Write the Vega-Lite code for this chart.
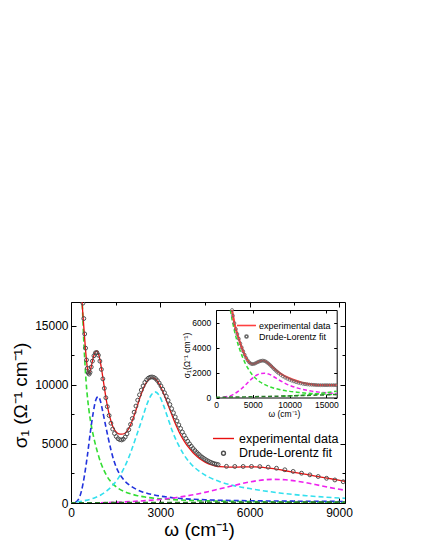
{
"$schema": "https://vega.github.io/schema/vega-lite/v6.json",
"width": 274, "height": 201,
"autosize": {"type": "none"},
"padding": {"left": 71, "top": 302, "right": 80, "bottom": 47},
"background": "white",
"config": {
 "view": {"stroke": null},
 "axis": {"grid": false, "domainColor": "black", "tickColor": "black", "labelColor": "black", "titleColor": "black", "labelFont": "Liberation Sans", "titleFont": "Liberation Sans", "titleFontWeight": "normal", "labelFlush": false, "labelOverlap": false, "domainWidth": 1, "tickWidth": 1},
 "legend": {"labelFont": "Liberation Sans", "labelColor": "black", "padding": 0, "offset": 0}
},
"datasets": {
 "main_exp": [
  {"w":330,"s":18500},{"w":370,"s":17000},{"w":430,"s":14900},{"w":490,"s":12900},{"w":550,"s":11400},{"w":600,"s":10950},{"w":650,"s":11200},{"w":710,"s":11900},{"w":770,"s":12500},{"w":830,"s":12830},{"w":870,"s":12860},{"w":920,"s":12650},{"w":980,"s":12000},{"w":1040,"s":11100},{"w":1100,"s":10100},{"w":1200,"s":8500},{"w":1300,"s":7300},{"w":1400,"s":6500},{"w":1500,"s":6050},{"w":1600,"s":5850},{"w":1700,"s":5820},{"w":1800,"s":5880},{"w":1900,"s":6150},{"w":2000,"s":6600},{"w":2100,"s":7250},{"w":2200,"s":8000},{"w":2300,"s":8800},{"w":2400,"s":9500},{"w":2500,"s":10050},{"w":2600,"s":10400},{"w":2700,"s":10560},{"w":2780,"s":10570},{"w":2860,"s":10430},{"w":2950,"s":10100},{"w":3050,"s":9600},{"w":3150,"s":9000},{"w":3250,"s":8350},{"w":3350,"s":7700},{"w":3450,"s":7050},{"w":3550,"s":6450},{"w":3650,"s":5900},{"w":3750,"s":5450},{"w":3850,"s":5050},{"w":3950,"s":4700},{"w":4100,"s":4250},{"w":4250,"s":3900},{"w":4400,"s":3620},{"w":4550,"s":3400},{"w":4700,"s":3240},{"w":4850,"s":3130},{"w":5000,"s":3070},{"w":5300,"s":3040},{"w":5600,"s":3040},{"w":5900,"s":3060},{"w":6200,"s":3060},{"w":6500,"s":3000},{"w":6800,"s":2900},{"w":7100,"s":2770},{"w":7400,"s":2640},{"w":7700,"s":2500},{"w":8000,"s":2370},{"w":8300,"s":2230},{"w":8600,"s":2100},{"w":8900,"s":1970},{"w":9200,"s":1840}
 ],
 "main_fit": [
  {"w":400,"s":16900},{"w":430,"s":15600},{"w":460,"s":14300},{"w":490,"s":13100},{"w":520,"s":12100},{"w":550,"s":11400},{"w":580,"s":11000},{"w":610,"s":10900},{"w":640,"s":11050},{"w":680,"s":11500},{"w":720,"s":12000},{"w":770,"s":12450},{"w":820,"s":12700},{"w":870,"s":12720},{"w":920,"s":12500},{"w":970,"s":12000},{"w":1020,"s":11300},{"w":1070,"s":10500},{"w":1120,"s":9700},{"w":1170,"s":8900},{"w":1220,"s":8150},{"w":1280,"s":7400},{"w":1340,"s":6750},{"w":1400,"s":6250},{"w":1460,"s":5880},{"w":1520,"s":5620},{"w":1580,"s":5440},{"w":1640,"s":5350},{"w":1700,"s":5330},{"w":1760,"s":5400},{"w":1820,"s":5580},{"w":1880,"s":5850},{"w":1940,"s":6200},{"w":2000,"s":6650},{"w":2060,"s":7150},{"w":2120,"s":7680},{"w":2180,"s":8200},{"w":2240,"s":8700},{"w":2300,"s":9150},{"w":2360,"s":9550},{"w":2420,"s":9900},{"w":2480,"s":10200},{"w":2540,"s":10420},{"w":2600,"s":10560},{"w":2660,"s":10640},{"w":2720,"s":10660},{"w":2780,"s":10620},{"w":2840,"s":10520},{"w":2900,"s":10360},{"w":2960,"s":10150},{"w":3020,"s":9900},{"w":3080,"s":9630},{"w":3140,"s":9330},{"w":3200,"s":9020},{"w":3260,"s":8680},{"w":3320,"s":8330},{"w":3380,"s":7980},{"w":3440,"s":7630},{"w":3500,"s":7280},{"w":3560,"s":6940},{"w":3620,"s":6610},{"w":3680,"s":6300},{"w":3740,"s":6000},{"w":3800,"s":5720},{"w":3860,"s":5460},{"w":3920,"s":5220},{"w":3980,"s":5000},{"w":4040,"s":4800},{"w":4100,"s":4610},{"w":4160,"s":4440},{"w":4220,"s":4280},{"w":4280,"s":4140},{"w":4340,"s":4000},{"w":4400,"s":3880},{"w":4460,"s":3770},{"w":4520,"s":3670},{"w":4580,"s":3580},{"w":4640,"s":3500},{"w":4700,"s":3430},{"w":4760,"s":3370},{"w":4820,"s":3320},{"w":4880,"s":3280},{"w":4940,"s":3250},{"w":5220,"s":3100},{"w":5500,"s":3090},{"w":5780,"s":3090},{"w":6060,"s":3090},{"w":6340,"s":3080},{"w":6620,"s":3030},{"w":6900,"s":2940},{"w":7180,"s":2810},{"w":7460,"s":2670},{"w":7740,"s":2520},{"w":8020,"s":2380},{"w":8300,"s":2240},{"w":8580,"s":2090},{"w":8860,"s":1950},{"w":9140,"s":1800}
 ],
 "main_comp": [
  {"c":"drude","w":340,"s":19500},{"c":"drude","w":380,"s":16800},{"c":"drude","w":420,"s":14200},{"c":"drude","w":460,"s":12200},{"c":"drude","w":500,"s":10500},{"c":"drude","w":550,"s":9000},{"c":"drude","w":600,"s":7900},{"c":"drude","w":650,"s":7000},{"c":"drude","w":700,"s":6300},{"c":"drude","w":750,"s":5700},{"c":"drude","w":800,"s":5150},{"c":"drude","w":850,"s":4650},{"c":"drude","w":900,"s":4200},{"c":"drude","w":1000,"s":3400},{"c":"drude","w":1100,"s":2800},{"c":"drude","w":1200,"s":2300},{"c":"drude","w":1300,"s":1920},{"c":"drude","w":1400,"s":1620},{"c":"drude","w":1500,"s":1400},{"c":"drude","w":1600,"s":1220},{"c":"drude","w":1800,"s":960},{"c":"drude","w":2000,"s":780},{"c":"drude","w":2200,"s":640},{"c":"drude","w":2500,"s":500},{"c":"drude","w":2800,"s":400},{"c":"drude","w":3200,"s":320},{"c":"drude","w":3600,"s":260},{"c":"drude","w":4000,"s":220},{"c":"drude","w":5000,"s":160},{"c":"drude","w":6000,"s":120},{"c":"drude","w":7000,"s":95},{"c":"drude","w":8000,"s":80},{"c":"drude","w":9200,"s":65},
  {"c":"blue","w":150,"s":60},{"c":"blue","w":250,"s":300},{"c":"blue","w":350,"s":1000},{"c":"blue","w":450,"s":2300},{"c":"blue","w":550,"s":4000},{"c":"blue","w":650,"s":6000},{"c":"blue","w":750,"s":7700},{"c":"blue","w":830,"s":8700},{"c":"blue","w":910,"s":9000},{"c":"blue","w":980,"s":8700},{"c":"blue","w":1060,"s":7800},{"c":"blue","w":1150,"s":6700},{"c":"blue","w":1250,"s":5500},{"c":"blue","w":1350,"s":4400},{"c":"blue","w":1450,"s":3500},{"c":"blue","w":1550,"s":2850},{"c":"blue","w":1700,"s":2200},{"c":"blue","w":1850,"s":1750},{"c":"blue","w":2000,"s":1450},{"c":"blue","w":2200,"s":1150},{"c":"blue","w":2400,"s":940},{"c":"blue","w":2600,"s":790},{"c":"blue","w":2800,"s":670},{"c":"blue","w":3000,"s":580},{"c":"blue","w":3300,"s":480},{"c":"blue","w":3600,"s":400},{"c":"blue","w":4000,"s":330},{"c":"blue","w":4500,"s":270},{"c":"blue","w":5000,"s":230},{"c":"blue","w":6000,"s":190},{"c":"blue","w":7000,"s":165},{"c":"blue","w":8000,"s":145},{"c":"blue","w":9200,"s":130},
  {"c":"cyan","w":200,"s":80},{"c":"cyan","w":500,"s":220},{"c":"cyan","w":800,"s":450},{"c":"cyan","w":1000,"s":680},{"c":"cyan","w":1200,"s":1020},{"c":"cyan","w":1400,"s":1500},{"c":"cyan","w":1600,"s":2150},{"c":"cyan","w":1800,"s":3050},{"c":"cyan","w":2000,"s":4250},{"c":"cyan","w":2200,"s":5700},{"c":"cyan","w":2400,"s":7200},{"c":"cyan","w":2550,"s":8350},{"c":"cyan","w":2700,"s":9150},{"c":"cyan","w":2820,"s":9400},{"c":"cyan","w":2950,"s":9150},{"c":"cyan","w":3100,"s":8300},{"c":"cyan","w":3250,"s":7200},{"c":"cyan","w":3400,"s":6100},{"c":"cyan","w":3600,"s":4950},{"c":"cyan","w":3800,"s":4050},{"c":"cyan","w":4000,"s":3380},{"c":"cyan","w":4300,"s":2700},{"c":"cyan","w":4600,"s":2220},{"c":"cyan","w":5000,"s":1800},{"c":"cyan","w":5500,"s":1450},{"c":"cyan","w":6000,"s":1220},{"c":"cyan","w":6500,"s":1020},{"c":"cyan","w":7000,"s":850},{"c":"cyan","w":7500,"s":710},{"c":"cyan","w":8000,"s":600},{"c":"cyan","w":8500,"s":500},{"c":"cyan","w":9200,"s":400},
  {"c":"magenta","w":1000,"s":20},{"c":"magenta","w":1500,"s":60},{"c":"magenta","w":2000,"s":120},{"c":"magenta","w":2500,"s":200},{"c":"magenta","w":3000,"s":300},{"c":"magenta","w":3500,"s":450},{"c":"magenta","w":4000,"s":650},{"c":"magenta","w":4500,"s":900},{"c":"magenta","w":5000,"s":1200},{"c":"magenta","w":5500,"s":1500},{"c":"magenta","w":6000,"s":1780},{"c":"magenta","w":6500,"s":1960},{"c":"magenta","w":6800,"s":2000},{"c":"magenta","w":7200,"s":1960},{"c":"magenta","w":7700,"s":1800},{"c":"magenta","w":8200,"s":1560},{"c":"magenta","w":8700,"s":1300},{"c":"magenta","w":9200,"s":1080},
  {"c":"dkgreen","w":0,"s":20},{"c":"dkgreen","w":3000,"s":40},{"c":"dkgreen","w":6000,"s":60},{"c":"dkgreen","w":9200,"s":80}
 ],
 "inset_exp": [
  {"w":2180,"s":7000},{"w":2500,"s":5950},{"w":3000,"s":4880},{"w":3500,"s":4000},{"w":4000,"s":3280},{"w":4500,"s":2820},{"w":5000,"s":2680},{"w":5500,"s":2780},{"w":6000,"s":2910},{"w":6500,"s":2940},{"w":7000,"s":2780},{"w":7500,"s":2530},{"w":8000,"s":2270},{"w":8500,"s":2030},{"w":9000,"s":1830},{"w":9500,"s":1660},{"w":10000,"s":1530},{"w":10500,"s":1410},{"w":11000,"s":1310},{"w":11500,"s":1220},{"w":12000,"s":1150},{"w":12500,"s":1090},{"w":13000,"s":1050},{"w":13500,"s":1010},{"w":14000,"s":990},{"w":15000,"s":985},{"w":16400,"s":985}
 ],
 "inset_fit": [
  {"w":2180,"s":7000},{"w":2300,"s":6550},{"w":2500,"s":5950},{"w":2700,"s":5480},{"w":2900,"s":5080},{"w":3100,"s":4700},{"w":3300,"s":4330},{"w":3500,"s":4000},{"w":3700,"s":3700},{"w":3900,"s":3420},{"w":4100,"s":3170},{"w":4300,"s":2970},{"w":4500,"s":2820},{"w":4700,"s":2720},{"w":4900,"s":2670},{"w":5100,"s":2680},{"w":5300,"s":2720},{"w":5500,"s":2780},{"w":5700,"s":2840},{"w":5900,"s":2890},{"w":6100,"s":2930},{"w":6300,"s":2950},{"w":6500,"s":2940},{"w":6700,"s":2900},{"w":6900,"s":2820},{"w":7100,"s":2730},{"w":7300,"s":2630},{"w":7500,"s":2510},{"w":7700,"s":2390},{"w":7900,"s":2270},{"w":8100,"s":2160},{"w":8300,"s":2050},{"w":8500,"s":1950},{"w":8800,"s":1810},{"w":9100,"s":1690},{"w":9400,"s":1590},{"w":9700,"s":1500},{"w":10000,"s":1420},{"w":10300,"s":1350},{"w":10600,"s":1290},{"w":10900,"s":1230},{"w":11200,"s":1180},{"w":11500,"s":1140},{"w":11800,"s":1100},{"w":12100,"s":1070},{"w":12400,"s":1050},{"w":12700,"s":1030},{"w":13000,"s":1020},{"w":13300,"s":1010},{"w":13600,"s":1000},{"w":13900,"s":995},{"w":14200,"s":990},{"w":14500,"s":990},{"w":14800,"s":990},{"w":15100,"s":990},{"w":15400,"s":990},{"w":15700,"s":990},{"w":16000,"s":990},{"w":16300,"s":990}
 ],
 "inset_comp": [
  {"c":"drude","w":1955,"s":7000},{"c":"drude","w":2200,"s":6200},{"c":"drude","w":2500,"s":5350},{"c":"drude","w":2800,"s":4650},{"c":"drude","w":3100,"s":4050},{"c":"drude","w":3400,"s":3550},{"c":"drude","w":3700,"s":3100},{"c":"drude","w":4000,"s":2700},{"c":"drude","w":4400,"s":2280},{"c":"drude","w":4800,"s":1920},{"c":"drude","w":5200,"s":1640},{"c":"drude","w":5600,"s":1420},{"c":"drude","w":6000,"s":1240},{"c":"drude","w":6500,"s":1070},{"c":"drude","w":7000,"s":930},{"c":"drude","w":7500,"s":820},{"c":"drude","w":8000,"s":730},{"c":"drude","w":9000,"s":590},{"c":"drude","w":10000,"s":490},{"c":"drude","w":11000,"s":420},{"c":"drude","w":12000,"s":360},{"c":"drude","w":13000,"s":320},{"c":"drude","w":14000,"s":290},{"c":"drude","w":15000,"s":260},{"c":"drude","w":16400,"s":230},
  {"c":"magenta","w":1000,"s":40},{"c":"magenta","w":2000,"s":150},{"c":"magenta","w":2800,"s":400},{"c":"magenta","w":3500,"s":720},{"c":"magenta","w":4000,"s":1000},{"c":"magenta","w":4500,"s":1300},{"c":"magenta","w":5000,"s":1570},{"c":"magenta","w":5500,"s":1780},{"c":"magenta","w":6000,"s":1900},{"c":"magenta","w":6600,"s":1940},{"c":"magenta","w":7200,"s":1870},{"c":"magenta","w":7800,"s":1680},{"c":"magenta","w":8500,"s":1420},{"c":"magenta","w":9200,"s":1190},{"c":"magenta","w":10000,"s":970},{"c":"magenta","w":11000,"s":770},{"c":"magenta","w":12000,"s":620},{"c":"magenta","w":13000,"s":510},{"c":"magenta","w":14000,"s":430},{"c":"magenta","w":15000,"s":370},{"c":"magenta","w":16400,"s":310},
  {"c":"green2","w":9000,"s":100},{"c":"green2","w":10000,"s":130},{"c":"green2","w":11000,"s":160},{"c":"green2","w":12000,"s":200},{"c":"green2","w":13000,"s":250},{"c":"green2","w":14000,"s":310},{"c":"green2","w":15000,"s":390},{"c":"green2","w":16400,"s":500},
  {"c":"dkgreen","w":0,"s":20},{"c":"dkgreen","w":4000,"s":50},{"c":"dkgreen","w":8000,"s":100},{"c":"dkgreen","w":12000,"s":160},{"c":"dkgreen","w":16400,"s":240}
 ]
},
"resolve": {"scale": {"x": "independent", "y": "independent", "color": "independent", "shape": "independent", "size": "independent"}},
"layer": [
 {
  "resolve": {"axis": {"x": "independent", "y": "independent"}},
  "layer": [
   {
    "data": {"name": "main_comp"},
    "mark": {"type": "line", "strokeDash": [5, 3], "strokeWidth": 1.6, "clip": true, "interpolate": "monotone"},
    "encoding": {
     "x": {"field": "w", "type": "quantitative", "scale": {"domain": [0, 9200], "nice": false, "zero": false},
           "axis": {"orient": "bottom", "values": [1500, 4500, 7500], "labels": false, "tickSize": -3, "title": null, "domain": false}},
     "y": {"field": "s", "type": "quantitative", "scale": {"domain": [0, 17000], "nice": false},
           "axis": {"orient": "left", "values": [2500, 7500, 12500], "labels": false, "tickSize": -3, "title": null, "domain": false}},
     "stroke": {"field": "c", "type": "nominal", "legend": null,
                "scale": {"domain": ["drude", "blue", "cyan", "magenta", "dkgreen", "green2"], "range": ["#33dd33", "#2233dd", "#33e0ee", "#ee22ee", "#2a7a2a", "#33dd33"]}}
    }
   },
   {
    "data": {"name": "main_exp"},
    "mark": {"type": "line", "strokeWidth": 1.3, "clip": true, "interpolate": "monotone"},
    "encoding": {
     "x": {"field": "w", "type": "quantitative",
           "axis": {"orient": "bottom", "values": [0, 3000, 6000, 9000], "format": "d", "tickSize": -5, "labelPadding": 9, "labelFontSize": 12,
                    "title": "ω (cm⁻¹)", "titleFontSize": 19, "titleX": 128, "titleY": 32, "titleAlign": "center", "titleBaseline": "alphabetic"}},
     "y": {"field": "s", "type": "quantitative",
           "axis": {"orient": "left", "values": [0, 5000, 10000, 15000], "format": "d", "tickSize": -5, "labelPadding": 8, "labelFontSize": 12,
                    "title": "σ₁ (Ω⁻¹ cm⁻¹)", "titleFontSize": 19, "titleX": -45, "titleY": 93, "titleAlign": "center", "titleBaseline": "alphabetic", "titleAngle": -90}},
     "color": {"datum": "experimental data", "type": "nominal",
               "scale": {"domain": ["experimental data", "Drude-Lorentz fit"], "range": ["#e81010", "#4d4d4d"]},
               "legend": {"orient": "none", "legendX": 141, "legendY": 125, "title": null, "labelFontSize": 12.5, "labelOffset": 4, "rowPadding": 2, "symbolStrokeWidth": 1.4}}
    }
   },
   {
    "data": {"name": "main_fit"},
    "mark": {"type": "point", "filled": false, "strokeWidth": 1, "opacity": 1, "clip": true},
    "encoding": {
     "x": {"field": "w", "type": "quantitative",
           "axis": {"orient": "top", "values": [0, 3000, 6000, 9000], "labels": false, "tickSize": -5, "title": null}},
     "y": {"field": "s", "type": "quantitative",
           "axis": {"orient": "right", "values": [0, 5000, 10000, 15000], "labels": false, "tickSize": -5, "title": null}},
     "color": {"datum": "Drude-Lorentz fit", "type": "nominal",
               "legend": {"orient": "none", "legendX": 141, "legendY": 125, "title": null, "labelFontSize": 12.5, "labelOffset": 4, "rowPadding": 2, "symbolStrokeWidth": 1.4}},
     "shape": {"datum": "Drude-Lorentz fit", "type": "nominal",
               "scale": {"domain": ["experimental data", "Drude-Lorentz fit"], "range": ["stroke", "circle"]},
               "legend": {"orient": "none", "legendX": 141, "legendY": 125, "title": null, "labelFontSize": 12.5, "labelOffset": 4, "rowPadding": 2, "symbolStrokeWidth": 1.4}},
     "size": {"datum": "Drude-Lorentz fit", "type": "nominal",
              "scale": {"type": "ordinal", "domain": ["experimental data", "Drude-Lorentz fit"], "range": [441, 15]},
              "legend": {"orient": "none", "legendX": 141, "legendY": 125, "title": null, "labelFontSize": 12.5, "labelOffset": 4, "rowPadding": 2, "symbolStrokeWidth": 1.4}}
    }
   },
   {
    "mark": {"type": "text", "fontSize": 13.4, "font": "Liberation Sans", "color": "black", "align": "center", "baseline": "middle"},
    "encoding": {
     "x": {"datum": 2015, "type": "quantitative",
           "axis": {"orient": "top", "values": [1500, 4500, 7500], "labels": false, "tickSize": -3, "title": null, "domain": false}},
     "y": {"datum": 13786, "type": "quantitative",
           "axis": {"orient": "right", "values": [2500, 7500, 12500], "labels": false, "tickSize": -3, "title": null, "domain": false}},
     "text": {"value": "T=10K"}
    }
   }
  ]
 },
 {
  "resolve": {"axis": {"x": "independent", "y": "independent"}},
  "layer": [
   {
    "data": {"name": "inset_comp"},
    "mark": {"type": "line", "strokeDash": [4, 2.5], "strokeWidth": 1.5, "interpolate": "monotone"},
    "encoding": {
     "x": {"field": "w", "type": "quantitative", "scale": {"domain": [0, 16400], "nice": false, "zero": false, "range": [145, 265.7]}, "axis": null},
     "y": {"field": "s", "type": "quantitative", "scale": {"domain": [0, 7000], "nice": false, "range": [95.5, 8]}, "axis": null},
     "stroke": {"field": "c", "type": "nominal", "legend": null}
    }
   },
   {
    "data": {"name": "inset_exp"},
    "mark": {"type": "line", "strokeWidth": 2.2, "interpolate": "monotone"},
    "encoding": {
     "x": {"field": "w", "type": "quantitative",
           "axis": {"orient": "bottom", "offset": -105.5, "values": [0, 5000, 10000, 15000], "format": "d", "tickSize": -3, "labelPadding": 6, "labelFontSize": 8.5,
                    "title": "ω (cm⁻¹)", "titleFontSize": 8.5, "titleX": 212.8, "titleY": 18.5, "titleAlign": "center", "titleBaseline": "alphabetic"}},
     "y": {"field": "s", "type": "quantitative",
           "axis": {"orient": "left", "offset": -145, "values": [0, 2000, 4000, 6000], "format": "d", "tickSize": -3, "labelPadding": 8.3, "labelFontSize": 8.5,
                    "title": "σ₁(Ω⁻¹ cm⁻¹)", "titleFontSize": 8.5, "titleX": -27, "titleY": 53, "titleAlign": "center", "titleBaseline": "alphabetic", "titleAngle": -90}},
     "color": {"datum": "experimental data", "type": "nominal",
               "scale": {"domain": ["experimental data", "Drude-Lorentz fit"], "range": ["#ff4040", "#666666"]},
               "legend": {"orient": "none", "legendX": 165, "legendY": 13, "title": null, "labelFontSize": 9, "labelOffset": 2, "rowPadding": 0, "symbolStrokeWidth": 1.6}}
    }
   },
   {
    "data": {"name": "inset_fit"},
    "mark": {"type": "point", "filled": false, "strokeWidth": 0.8, "opacity": 1},
    "encoding": {
     "x": {"field": "w", "type": "quantitative",
           "axis": {"orient": "top", "offset": -8, "values": [0, 5000, 10000, 15000], "labels": false, "tickSize": -3, "title": null}},
     "y": {"field": "s", "type": "quantitative",
           "axis": {"orient": "right", "offset": -8.3, "values": [0, 2000, 4000, 6000], "labels": false, "tickSize": -3, "title": null}},
     "color": {"datum": "Drude-Lorentz fit", "type": "nominal",
               "legend": {"orient": "none", "legendX": 165, "legendY": 13, "title": null, "labelFontSize": 9, "labelOffset": 2, "rowPadding": 0, "symbolStrokeWidth": 1.6}},
     "shape": {"datum": "Drude-Lorentz fit", "type": "nominal",
               "scale": {"domain": ["experimental data", "Drude-Lorentz fit"], "range": ["stroke", "circle"]},
               "legend": {"orient": "none", "legendX": 165, "legendY": 13, "title": null, "labelFontSize": 9, "labelOffset": 2, "rowPadding": 0, "symbolStrokeWidth": 1.6}},
     "size": {"datum": "Drude-Lorentz fit", "type": "nominal",
              "scale": {"type": "ordinal", "domain": ["experimental data", "Drude-Lorentz fit"], "range": [361, 9]},
              "legend": {"orient": "none", "legendX": 165, "legendY": 13, "title": null, "labelFontSize": 9, "labelOffset": 2, "rowPadding": 0, "symbolStrokeWidth": 1.6}}
    }
   },
   {
    "mark": {"type": "text", "fontSize": 9, "font": "Liberation Sans", "color": "black", "align": "center", "baseline": "middle"},
    "encoding": {
     "x": {"datum": 12200, "type": "quantitative", "axis": null},
     "y": {"datum": 3400, "type": "quantitative", "axis": null},
     "text": {"value": "T=300K"}
    }
   }
  ]
 }
]
}
